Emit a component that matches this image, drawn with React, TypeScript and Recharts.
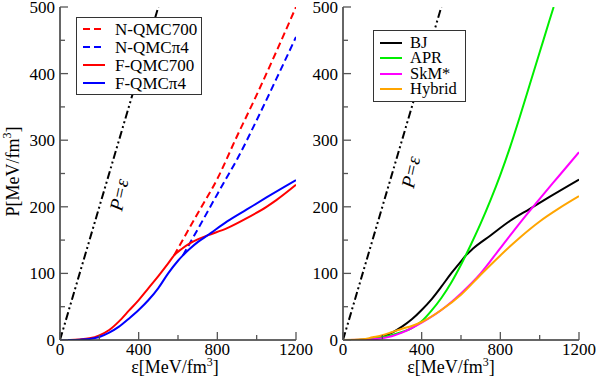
import React from "react";
import { LineChart, Line, XAxis, YAxis, Legend, ReferenceDot } from "recharts";

// ticks: labels every 400 / 100, minor marks halfway
const xTicks = [0, 200, 400, 600, 800, 1000, 1200];
const yTicks = [0, 50, 100, 150, 200, 250, 300, 350, 400, 450, 500];

// causal limit P = epsilon
const causalE = [0, 500];
const causalP = [0, 500];

// left panel
const nQmc700E = [580, 700, 800, 900, 1000, 1100, 1200];
const nQmc700P = [127, 190, 242, 306, 368, 433, 500];
const nQmcPi4E = [625, 700, 800, 840, 900, 1000, 1100, 1200];
const nQmcPi4P = [127, 166, 219, 240, 271, 330, 392, 455];
const fQmc700E = [0, 50, 100, 150, 200, 250, 300, 350, 400, 450, 500, 550, 580, 620, 660, 700, 750, 850, 950, 1050, 1100, 1200];
const fQmc700P = [0, 0.1, 0.8, 2.5, 7, 15, 28, 44, 60, 78, 96, 115, 127, 137, 145, 151, 157, 168, 183, 200, 210, 233];
const fQmcPi4E = [0, 50, 100, 150, 200, 250, 300, 350, 400, 450, 500, 550, 600, 625, 660, 700, 750, 850, 950, 1050, 1200];
const fQmcPi4P = [0, 0.1, 0.5, 1.5, 4.5, 11, 20, 32, 45, 60, 78, 100, 119, 127, 137, 147, 157, 178, 196, 214, 240];

// right panel
const bjE = [0, 50, 100, 150, 200, 250, 300, 350, 400, 450, 500, 550, 600, 625, 660, 750, 850, 950, 1050, 1200];
const bjP = [0, 0.1, 0.5, 1.5, 5, 11, 20, 31, 45, 61, 80, 100, 118, 127, 137, 157, 179, 197, 215, 241];
const aprE = [0, 100, 200, 300, 350, 400, 450, 500, 550, 600, 650, 700, 750, 800, 850, 900, 950, 1000, 1050, 1071];
const aprP = [0, 0.5, 4, 12, 18, 28, 44, 63, 86, 113, 143, 175, 210, 248, 290, 336, 384, 432, 480, 500];
const skmE = [0, 100, 200, 300, 400, 500, 600, 700, 800, 900, 1000, 1100, 1200];
const skmP = [0, 0.3, 2.5, 11, 26, 45, 70, 100, 138, 176, 212, 247, 282];
const hybridE = [0, 100, 150, 200, 250, 300, 350, 400, 500, 600, 700, 800, 900, 1000, 1100, 1200];
const hybridP = [0, 1, 4, 7, 12, 17, 21, 27, 45, 68, 98, 127, 154, 178, 198, 216];

const zip = (es: number[], ps: number[]) => es.map((e, i) => ({ e, p: ps[i] }));

type Series = { name: string; color: string; dash?: string; data: { e: number; p: number }[] };

const leftSeries: Series[] = [
  { name: "N-QMC700", color: "#ff0000", dash: "7 4", data: zip(nQmc700E, nQmc700P) },
  { name: "N-QMCπ4", color: "#0000ff", dash: "7 4", data: zip(nQmcPi4E, nQmcPi4P) },
  { name: "F-QMC700", color: "#ff0000", data: zip(fQmc700E, fQmc700P) },
  { name: "F-QMCπ4", color: "#0000ff", data: zip(fQmcPi4E, fQmcPi4P) },
];

const rightSeries: Series[] = [
  { name: "BJ", color: "#000000", data: zip(bjE, bjP) },
  { name: "APR", color: "#00ee00", data: zip(aprE, aprP) },
  { name: "SkM*", color: "#ff00ff", data: zip(skmE, skmP) },
  { name: "Hybrid", color: "#ffa500", data: zip(hybridE, hybridP) },
];

const FONT = "'Liberation Serif', 'Times New Roman', monospace";
const TXT = { fontFamily: FONT };
const FRAME = "#333";
const TICK = "#555";

function makeTick(side: "bottom" | "top" | "left" | "right") {
  return (props: any) => {
    const { x, y, payload } = props;
    const v = payload.value;
    const isX = side === "bottom" || side === "top";
    const major = isX ? v % 400 === 0 : v % 100 === 0;
    const len = major ? 8 : 5;
    let line;
    if (side === "bottom") line = <line x1={x} x2={x} y1={y} y2={y - len} />;
    else if (side === "top") line = <line x1={x} x2={x} y1={y} y2={y + len} />;
    else if (side === "left") line = <line x1={x} x2={x + len} y1={y} y2={y} />;
    else line = <line x1={x} x2={x - len} y1={y} y2={y} />;
    return (
      <g>
        <g stroke={TICK} strokeWidth={1.3}>{line}</g>
        {major && side === "bottom" && (
          <text x={x} y={y + 15} textAnchor="middle" fontSize={17} style={TXT} fill="#000">{v}</text>
        )}
        {major && side === "left" && (
          <text x={x - 5} y={y + 6} textAnchor="end" fontSize={17} style={TXT} fill="#000">{v}</text>
        )}
      </g>
    );
  };
}

function makeXLabel(shift: number) {
  return (props: any) => {
    const { x, y, width } = props.viewBox;
    return (
      <text x={x + width / 2 + shift} y={y + 33} textAnchor="middle" fontSize={18} style={TXT} fill="#000">
        <tspan>ε[MeV/fm</tspan>
        <tspan dy={-7} fontSize={12}>3</tspan>
        <tspan dy={7}>]</tspan>
      </text>
    );
  };
}

function YLabel(props: any) {
  const { y, height } = props.viewBox;
  const cx = 19;
  const cy = y + height / 2 - 2;
  return (
    <text transform={`translate(${cx},${cy}) rotate(-90)`} textAnchor="middle" fontSize={18} style={TXT} fill="#000">
      <tspan>P[MeV/fm</tspan>
      <tspan dy={-8} fontSize={12}>3</tspan>
      <tspan dy={8}>]</tspan>
    </text>
  );
}

function CausalLabel(props: any) {
  const { x, y, width, height } = props.viewBox;
  const cx = x + width / 2;
  const cy = y + height / 2;
  return (
    <text transform={`translate(${cx},${cy}) rotate(-78)`} textAnchor="middle" dominantBaseline="central"
      fontSize={19} fontStyle="italic" style={TXT} fill="#000">
      P=ε
    </text>
  );
}

function LegendBox({ series, width, rowH, pad, lineW, gap, fontSize }: { series: Series[]; width: number; rowH: number; pad: number; lineW: number; gap: number; fontSize: number }) {
  return (
    <div style={{ width, background: "#fff", border: `1px solid ${FRAME}`, padding: `${pad}px 0`, boxSizing: "border-box", fontFamily: FONT, fontSize }}>
      {series.map((s) => (
        <div key={s.name} style={{ display: "flex", alignItems: "center", height: rowH, paddingLeft: 6 }}>
          <svg width={lineW} height={4} style={{ marginRight: gap }}>
            <line x1={0} x2={lineW} y1={2} y2={2} stroke={s.color} strokeWidth={2} strokeDasharray={s.dash} />
          </svg>
          <span style={{ lineHeight: 1 }}>{s.name}</span>
        </div>
      ))}
    </div>
  );
}

type PanelProps = {
  series: Series[];
  left: number;
  width: number;
  yAxisW: number;
  rightM: number;
  showYLabel: boolean;
  xLabelShift: number;
  legendPos: { left: number; top: number; width: number; rowH: number; pad: number; lineW: number; gap: number; fontSize: number };
  causalAt: { e: number; p: number };
};

function Panel({ series, left, width, yAxisW, rightM, showYLabel, xLabelShift, legendPos, causalAt }: PanelProps) {
  const XLabel = makeXLabel(xLabelShift);
  return (
    <div style={{ position: "absolute", left, top: 0 }}>
      <LineChart width={width} height={382} margin={{ top: 7, right: rightM, bottom: 0, left: 0 }}>
        <XAxis dataKey="e" type="number" domain={[0, 1200]} ticks={xTicks} allowDataOverflow interval={0}
          height={42} tickSize={0} tickMargin={0} stroke={FRAME} strokeWidth={1.5}
          tick={makeTick("bottom")} tickLine={false} label={<XLabel />} />
        <XAxis xAxisId="top" orientation="top" dataKey="e" type="number" domain={[0, 1200]} ticks={xTicks}
          allowDataOverflow interval={0} height={0} tickSize={0} tickMargin={0} stroke={FRAME} strokeWidth={1.5}
          tick={makeTick("top")} tickLine={false} />
        <YAxis type="number" domain={[0, 500]} ticks={yTicks} allowDataOverflow interval={0} width={yAxisW}
          tickSize={0} tickMargin={0} stroke={FRAME} strokeWidth={1.5} tick={makeTick("left")} tickLine={false}
          label={showYLabel ? <YLabel /> : undefined} />
        <YAxis yAxisId="right" orientation="right" type="number" domain={[0, 500]} ticks={yTicks} allowDataOverflow
          interval={0} width={0} tickSize={0} tickMargin={0} stroke={FRAME} strokeWidth={1.5}
          tick={makeTick("right")} tickLine={false} />
        <Line data={zip(causalE, causalP)} dataKey="p" stroke="#000" strokeWidth={2} strokeDasharray="8 3 2 3 2 3"
          dot={false} isAnimationActive={false} legendType="none" />
        {series.map((s) => (
          <Line key={s.name} data={s.data} dataKey="p" name={s.name} type="monotone" stroke={s.color}
            strokeWidth={2} strokeDasharray={s.dash} dot={false} isAnimationActive={false} />
        ))}
        <ReferenceDot x={causalAt.e} y={causalAt.p} r={1} fill="none" stroke="none" label={<CausalLabel />} />
        <Legend layout="vertical" align="center" verticalAlign="middle"
          wrapperStyle={{ left: legendPos.left, top: legendPos.top, width: legendPos.width }}
          content={() => <LegendBox series={series} {...legendPos} />} />
      </LineChart>
    </div>
  );
}

export default function App() {
  return (
    <div style={{ position: "absolute", left: 0, top: 0, width: 599, height: 382, background: "#fff", overflow: "hidden" }}>
      <Panel series={leftSeries} left={0} width={343} yAxisW={60} rightM={47} showYLabel xLabelShift={-3}
        legendPos={{ left: 76, top: 17, width: 126, rowH: 18, pad: 2, lineW: 22, gap: 10, fontSize: 17 }}
        causalAt={{ e: 300, p: 218 }} />
      <Panel series={rightSeries} left={300} width={299} yAxisW={43} rightM={20} showYLabel={false} xLabelShift={-10}
        legendPos={{ left: 73, top: 30, width: 93, rowH: 15.5, pad: 4, lineW: 22, gap: 8, fontSize: 16.5 }}
        causalAt={{ e: 344, p: 252 }} />
    </div>
  );
}
